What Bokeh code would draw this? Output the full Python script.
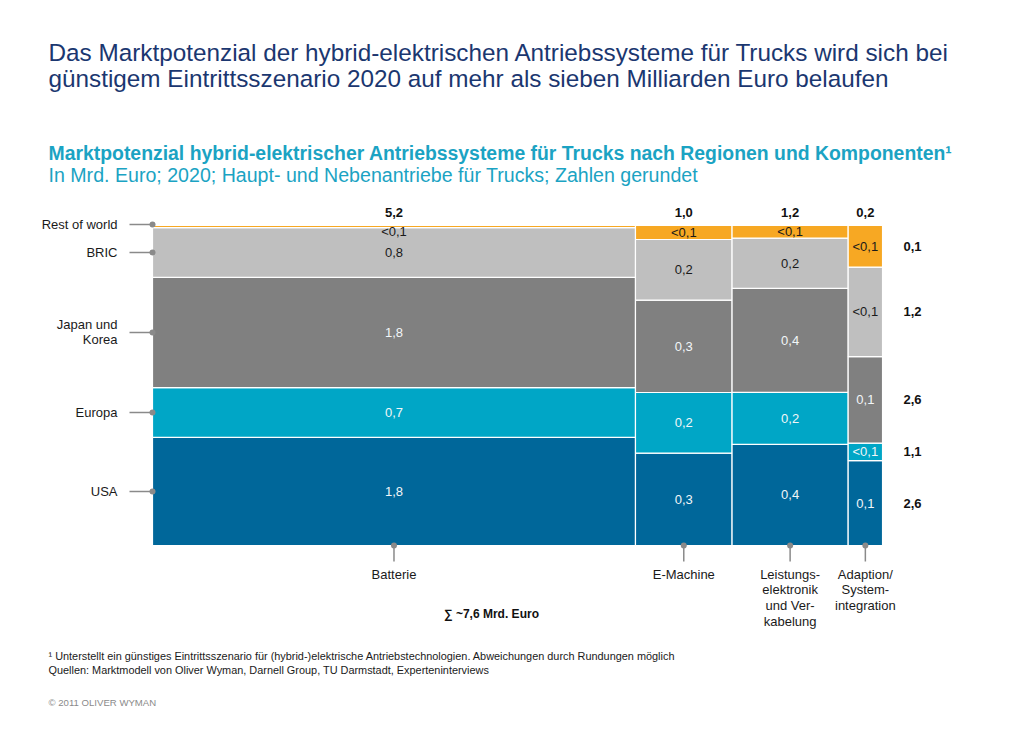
from bokeh.plotting import figure
from bokeh.models import ColumnDataSource, Range1d, Label
from bokeh.core.properties import value
from bokeh.embed import file_html
from bokeh.resources import INLINE

# ---------------- data ----------------
components = ["Batterie", "E-Machine", "Leistungs-\nelektronik\nund Ver-\nkabelung",
              "Adaption/\nSystem-\nintegration"]
component_totals = ["5,2", "1,0", "1,2", "0,2"]
# column widths (Mrd. Euro scale, as drawn in the picture)
col_width = [5.2, 1.04, 1.25, 0.37]

# regions from bottom to top
regions = ["USA", "Europa", "Japan und\nKorea", "BRIC", "Rest of world"]
region_totals = ["2,6", "1,1", "2,6", "1,2", "0,1"]

# estimated (unrounded) values per component, Mrd. Euro
usa = [1.755, 0.29, 0.379, 0.053]
europa = [0.81, 0.19, 0.195, 0.011]
japan = [1.79, 0.29, 0.39, 0.054]
bric = [0.81, 0.19, 0.189, 0.056]
rest = [0.033, 0.044, 0.047, 0.026]

# printed (rounded) labels
usa_lbl = ["1,8", "0,3", "0,4", "0,1"]
europa_lbl = ["0,7", "0,2", "0,2", "<0,1"]
japan_lbl = ["1,8", "0,3", "0,4", "0,1"]
bric_lbl = ["0,8", "0,2", "0,2", "<0,1"]
rest_lbl = ["<0,1", "<0,1", "<0,1", "<0,1"]

series = [usa, europa, japan, bric, rest]
series_lbl = [usa_lbl, europa_lbl, japan_lbl, bric_lbl, rest_lbl]
colors = ["#00679a", "#00a6c6", "#808080", "#bfbfbf", "#f7a823"]
text_colors = ["#f2f6f8", "#f2f6f8", "#f2f6f8", "#1a1a1a", "#1a1a1a"]

# ---------------- geometry helpers (reference-pixel -> data) ----------------
S = 92.88          # pixels per unit on x
H = 320.0          # pixels for full column height
def px_x(rx):
    return (rx - 152) / S
def px_y(ry):
    return (545 - ry) / H

W, HGT = 1008, 715
p = figure(width=W, height=HGT, output_backend="svg", toolbar_location=None,
           x_range=Range1d(px_x(0), px_x(W)), y_range=Range1d(px_y(HGT), px_y(0)),
           x_axis_location=None, y_axis_location=None, min_border=0,
           background_fill_color="white", border_fill_color="white")
p.grid.visible = False
p.outline_line_color = None

FONT = "Liberation Sans"

# ---------------- mekko rectangles ----------------
lefts, rights = [], []
acc = 0.0
for w in col_width:
    lefts.append(acc)
    rights.append(acc + w)
    acc += w
centers = [(l + r) / 2 for l, r in zip(lefts, rights)]

totals = [sum(s[i] for s in series) for i in range(len(components))]

q = dict(left=[], right=[], bottom=[], top=[], color=[])
t = dict(x=[], y=[], text=[], color=[])
seg_centers = [[0.0] * len(components) for _ in series]
for i in range(len(components)):
    base = 0.0
    for k, s in enumerate(series):
        h = s[i] / totals[i]
        q["left"].append(lefts[i]); q["right"].append(rights[i])
        q["bottom"].append(base); q["top"].append(base + h)
        q["color"].append(colors[k])
        cy = base + h / 2
        seg_centers[k][i] = cy
        ly = cy if h * H >= 12 else base + h - 6 / H
        t["x"].append(centers[i]); t["y"].append(ly)
        t["text"].append(series_lbl[k][i]); t["color"].append(text_colors[k])
        base += h

p.quad(left="left", right="right", bottom="bottom", top="top", fill_color="color",
       line_color="white", line_width=1.2, source=ColumnDataSource(q))
p.text(x="x", y="y", text="text", text_color="color", source=ColumnDataSource(t),
       text_font=value(FONT), text_font_size="13px", text_align="center",
       text_baseline="middle")

# column totals on top
p.text(x=centers, y=[px_y(212)] * len(centers), text=component_totals,
       text_font=value(FONT), text_font_size="13px", text_font_style="bold",
       text_color="#111111", text_align="center", text_baseline="middle")

# region totals on the right (aligned with last column's segments)
p.text(x=[px_x(912)] * len(regions), y=[seg_centers[k][-1] for k in range(len(regions))],
       text=region_totals, text_font=value(FONT), text_font_size="13px",
       text_font_style="bold", text_color="#111111", text_align="center",
       text_baseline="middle")

# region labels on the left with connectors
ry = [seg_centers[k][0] for k in range(len(regions))]
ry[-1] = px_y(224)
p.segment(x0=[px_x(129)] * len(regions), x1=[0] * len(regions), y0=ry, y1=ry,
          line_color="#8a8a8a", line_width=1.5)
p.scatter(x=[0] * len(regions), y=ry, size=6, fill_color="#8a8a8a", line_color=None)
p.text(x=[px_x(117)] * len(regions), y=ry, text=regions, text_font=value(FONT),
       text_font_size="13px", text_color="#1a1a1a", text_align="right",
       text_baseline="middle", text_line_height=1.0)

# component labels at the bottom with connectors
p.segment(x0=centers, x1=centers, y0=[0] * len(centers), y1=[px_y(561)] * len(centers),
          line_color="#8a8a8a", line_width=1.5)
p.scatter(x=centers, y=[0] * len(centers), size=6, fill_color="#8a8a8a", line_color=None)
p.text(x=centers, y=[px_y(566)] * len(centers), text=components, text_font=value(FONT),
       text_font_size="13px", text_color="#1a1a1a", text_align="center",
       text_baseline="top", text_line_height=1.05)

# ---------------- texts ----------------
def lab(rx, ry_, txt, size, color, style="normal", baseline="middle", align="left"):
    p.add_layout(Label(x=px_x(rx), y=px_y(ry_), text=txt, text_font=FONT,
                       text_font_size=size, text_color=color, text_font_style=style,
                       text_baseline=baseline, text_align=align))

title_col = "#1b3770"
lab(48, 52, "Das Marktpotenzial der hybrid-elektrischen Antriebssysteme für Trucks wird sich bei",
    "24.3px", title_col)
lab(48, 78, "günstigem Eintrittsszenario 2020 auf mehr als sieben Milliarden Euro belaufen",
    "24.3px", title_col)
sub_col = "#1ba3c3"
lab(48, 152, "Marktpotenzial hybrid-elektrischer Antriebssysteme für Trucks nach Regionen und Komponenten¹",
    "19.4px", sub_col, style="bold")
lab(48, 174, "In Mrd. Euro; 2020; Haupt- und Nebenantriebe für Trucks; Zahlen gerundet",
    "19.6px", sub_col)
lab(491, 613, "∑ ~7,6 Mrd. Euro", "12px", "#111111", style="bold", align="center")
lab(48, 655, "¹ Unterstellt ein günstiges Eintrittsszenario für (hybrid-)elektrische Antriebstechnologien. Abweichungen durch Rundungen möglich",
    "10.9px", "#1a1a1a")
lab(48, 669, "Quellen: Marktmodell von Oliver Wyman, Darnell Group, TU Darmstadt, Experteninterviews",
    "10.9px", "#1a1a1a")
lab(48, 702, "© 2011 OLIVER WYMAN", "9.6px", "#8a8a8a")

open("out.html", "w").write(file_html(p, INLINE))
